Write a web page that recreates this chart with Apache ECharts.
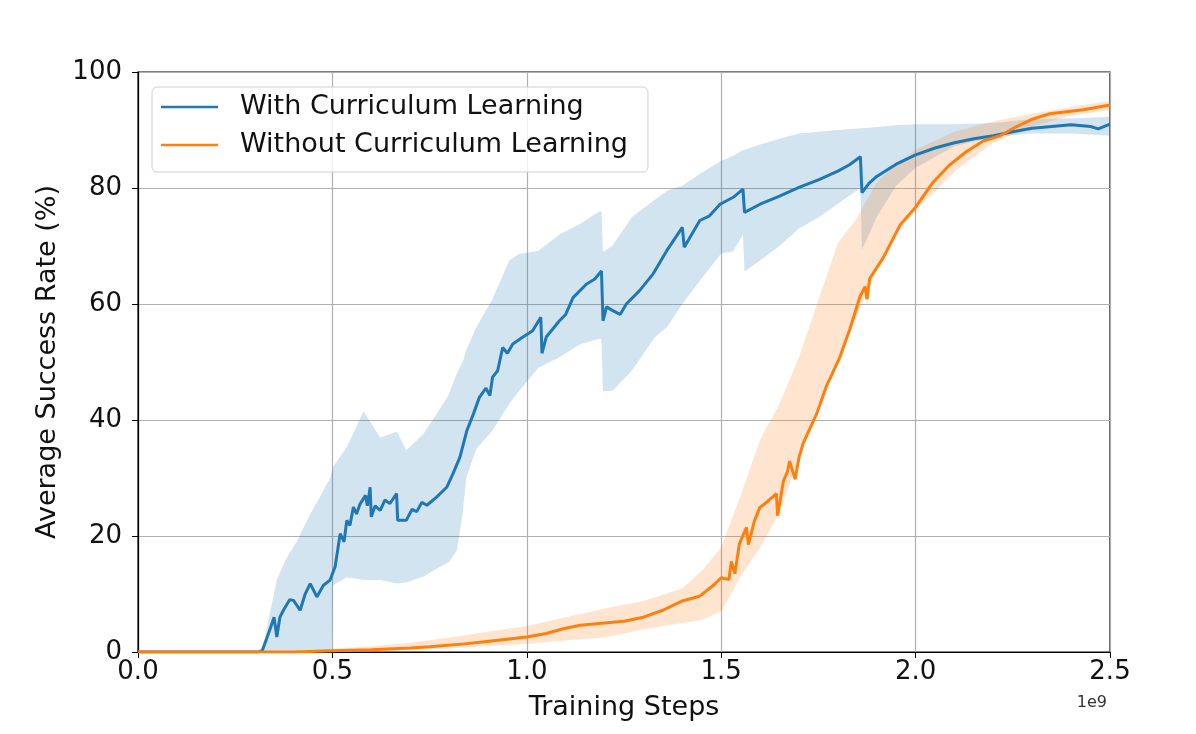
<!DOCTYPE html>
<html>
<head>
<meta charset="utf-8">
<script src="https://cdn.jsdelivr.net/npm/echarts@6/dist/echarts.min.js"></script>
<style>
  html, body { margin: 0; padding: 0; background: #fff; }
  #chart { width: 1196px; height: 734px; }
</style>
</head>
<body>
<div id="chart"></div>
<script>
// training steps are in units of 1e9
var xTicks = [0.0, 0.5, 1.0, 1.5, 2.0, 2.5];
var yTicks = [0, 20, 40, 60, 80, 100];

// With Curriculum Learning - mean line
var withX = [0, 0.31, 0.32, 0.34, 0.35, 0.357, 0.365, 0.374, 0.39, 0.40, 0.417, 0.43, 0.443, 0.46, 0.477, 0.494,
  0.507, 0.52, 0.53, 0.537, 0.545, 0.554, 0.562, 0.571, 0.585, 0.59, 0.597, 0.600, 0.61, 0.623, 0.635, 0.648,
  0.665, 0.668, 0.69, 0.705, 0.717, 0.73, 0.743,
  0.768, 0.794, 0.81, 0.828, 0.846, 0.863, 0.878, 0.895, 0.905, 0.912, 0.925, 0.938, 0.95, 0.964, 0.99, 1.015,
  1.036, 1.039, 1.05, 1.084, 1.1, 1.119, 1.153, 1.175, 1.192, 1.196, 1.205, 1.22, 1.24, 1.256, 1.29, 1.325,
  1.36, 1.40, 1.405, 1.445, 1.47, 1.497, 1.531, 1.556, 1.56, 1.6, 1.65, 1.7, 1.75, 1.8, 1.83, 1.858, 1.862,
  1.88, 1.9, 1.95, 2.0, 2.05, 2.1, 2.15, 2.2, 2.25, 2.3, 2.35, 2.4, 2.45, 2.47, 2.5];
var withY = [0, 0, 0.3, 4, 6, 2.6, 6, 7.2, 9, 8.9, 7.2, 10, 11.8, 9.5, 11.5, 12.4,
  14.7, 20.4, 19, 22.7, 21.8, 25, 23.8, 25.5, 27, 25.2, 28.4, 23.3, 25.2, 24.4, 26.2, 25.6,
  27.3, 22.7, 22.7, 24.6, 24.2, 25.8, 25.3,
  26.7, 28.4, 30.7, 33.6, 38.2, 41.1, 43.9, 45.5, 44.2, 47.4, 48.5, 52.5, 51.5, 53.1, 54.3, 55.4,
  57.7, 51.5, 54.3, 57.1, 58.2, 61.1, 63.4, 64.3, 65.7, 57.1, 59.5, 58.9, 58.2, 60, 62.3, 65.2,
  69.2, 73.2, 69.8, 74.4, 75.2, 77.2, 78.4, 79.8, 75.8, 77.2, 78.6, 80.1, 81.4, 82.9, 84, 85.4, 79.2,
  80.8, 82, 84.1, 85.7, 86.9, 87.8, 88.5, 89, 89.7, 90.3, 90.6, 90.9, 90.6, 90.2, 91];

// With Curriculum Learning - shaded band
var withBandX = [0.32, 0.34, 0.357, 0.38, 0.408, 0.443, 0.47, 0.494, 0.498, 0.502, 0.537, 0.58, 0.623, 0.666,
  0.69, 0.734, 0.777, 0.80, 0.82, 0.835, 0.844, 0.87, 0.91, 0.955, 0.98, 1.03, 1.084, 1.136, 1.187, 1.192,
  1.196, 1.22, 1.27, 1.33, 1.36, 1.40, 1.445, 1.50, 1.53, 1.556, 1.56, 1.6, 1.65, 1.7, 1.75, 1.8, 1.858,
  1.862, 1.9, 1.95, 2.0, 2.1, 2.2, 2.3, 2.4, 2.5];
var withLow = [0, 0, 0, 0, 0, 0, 0, 0, 0, 11.5, 12.9, 12.4, 12.4, 11.8,
  12, 13, 14.7, 15.5, 17.5, 23.8, 30, 35, 38, 42.8, 45, 49, 50.8, 53, 54, 54,
  45, 45, 48.5, 54.3, 56, 60, 64, 68.7, 69, 72, 65.6, 67.5, 70, 73, 74.9, 77.3, 80,
  69.3, 75, 80.4, 83.5, 87.2, 88.8, 89.4, 89.4, 89];
var withHigh = [0.3, 7, 12.4, 16, 19, 23.8, 27, 30, 31, 32, 35.3, 41.5, 37, 38,
  34.8, 37.6, 42, 44.5, 48, 50, 52, 56, 60.6, 67.5, 68.6, 69.2, 72, 73.8, 76, 76,
  69, 70, 75, 78, 79.5, 80.4, 82.4, 84.7, 85.5, 86.5, 86.6, 87.5, 88.5, 89.4, 89.7, 90, 90.3,
  90.3, 90.5, 90.8, 91, 91, 91.2, 91.9, 92, 92.3];

// Without Curriculum Learning - mean line
var withoutX = [0, 0.4, 0.5, 0.6, 0.7, 0.75, 0.84, 0.92, 1.0, 1.05, 1.094, 1.137, 1.2, 1.25, 1.3, 1.35, 1.40,
  1.444, 1.48, 1.5, 1.52, 1.526, 1.535, 1.547, 1.565, 1.57, 1.585, 1.599, 1.62, 1.642, 1.645, 1.66, 1.67,
  1.676, 1.69, 1.7, 1.711, 1.745, 1.771, 1.805, 1.831, 1.857, 1.87, 1.875, 1.882, 1.917, 1.96, 2.0, 2.045,
  2.088, 2.131, 2.174, 2.217, 2.26, 2.302, 2.345, 2.431, 2.5];
var withoutY = [0, 0, 0.2, 0.4, 0.7, 0.9, 1.4, 2, 2.6, 3.2, 4, 4.6, 5, 5.3, 6, 7.2, 8.8,
  9.6, 11.5, 12.8, 12.5, 15.6, 13.5, 18.7, 21.5, 18.5, 22.5, 24.9, 26, 27.3, 23.5, 29.5, 31,
  32.9, 29.8, 33.5, 36, 41, 45.9, 50.8, 55.7, 61.3, 63, 60.8, 64.4, 68, 73.6, 76.7, 81,
  84, 86.3, 88.1, 89, 90.6, 91.9, 92.8, 93.5, 94.3];

// Without Curriculum Learning - shaded band
var withoutBandX = [0.4, 0.5, 0.6, 0.7, 0.8, 0.9, 1.0, 1.1, 1.2, 1.3, 1.4, 1.45, 1.5, 1.55, 1.6, 1.65, 1.7,
  1.75, 1.8, 1.85, 1.9, 1.95, 2.0, 2.1, 2.2, 2.3, 2.4, 2.5];
var withoutLow = [0, 0, 0.1, 0.3, 0.6, 1, 1.4, 2, 2.5, 3.9, 5, 5.5, 7, 13, 18, 24, 33.5,
  42.8, 50, 58, 66, 72, 76, 82.9, 87.8, 90.6, 92.5, 93.4];
var withoutHigh = [0.1, 0.6, 1, 1.6, 2.5, 3.5, 4.5, 6, 7.5, 8.8, 11, 14, 18, 27, 36.6, 42.8, 50.8,
  60.7, 70.5, 74.9, 81, 84, 86.6, 89.7, 91.5, 92.8, 94, 95];

var BLUE = '#1f77b4';
var ORANGE = '#ff7f0e';
var FONT = 'DejaVu Sans';

function pairs(xs, ys) {
    return xs.map(function(x, i) { return [x, ys[i]]; });
}

// shaded min/max band drawn as one polygon through the axis scales
function band(name, xs, lo, hi, fill) {
    return {
        name: name,
        type: 'custom',
        silent: true,
        z: 1,
        clip: true,
        data: [[xs[0], lo[0]]],
        renderItem: function(params, api) {
            var pts = [];
            for (var i = 0; i < xs.length; i++) pts.push(api.coord([xs[i], hi[i]]));
            for (var j = xs.length - 1; j >= 0; j--) pts.push(api.coord([xs[j], lo[j]]));
            return { type: 'polygon', shape: { points: pts }, style: { fill: fill } };
        }
    };
}

var chart = echarts.init(document.getElementById('chart'));

var option = {
    backgroundColor: '#fff',
    animation: false,
    textStyle: { fontFamily: FONT },
    grid: {
        left: 138, right: 86, top: 72, bottom: 82,
        show: true, borderColor: '#000', borderWidth: 1.2   // full box like matplotlib
    },
    legend: {
        data: [
            { name: 'With Curriculum Learning', itemStyle: { color: BLUE } },
            { name: 'Without Curriculum Learning', itemStyle: { color: ORANGE } }
        ],
        orient: 'vertical',
        left: 152, top: 87,
        padding: [5, 20, 12, 9],
        icon: 'rect',
        itemWidth: 57, itemHeight: 2.5,
        itemGap: 8,
        backgroundColor: 'rgba(255,255,255,0.8)',
        borderColor: '#d0d0d0', borderWidth: 1, borderRadius: 5,
        textStyle: { fontSize: 27, color: '#111', fontFamily: FONT, padding: [0, 0, 0, 17], lineHeight: 30 }
    },
    xAxis: {
        type: 'value',
        min: xTicks[0], max: xTicks[xTicks.length - 1], interval: 0.5,
        name: 'Training Steps',
        nameLocation: 'middle', nameGap: 42,
        nameTextStyle: { fontSize: 27, color: '#111' },
        axisLine: { lineStyle: { color: '#000', width: 1.2 } },
        axisTick: { show: true, length: 6, lineStyle: { color: '#000' } },
        axisLabel: { fontSize: 26, color: '#111', margin: 7, formatter: function(v) { return v.toFixed(1); } },
        splitLine: { show: true, lineStyle: { color: '#b0b0b0', width: 1.2 } }
    },
    yAxis: {
        type: 'value',
        min: yTicks[0], max: yTicks[yTicks.length - 1], interval: 20,
        name: 'Average Success Rate (%)',
        nameLocation: 'middle', nameGap: 69, nameRotate: 90,
        nameTextStyle: { fontSize: 27, color: '#111' },
        axisLine: { show: true, lineStyle: { color: '#000', width: 1.2 } },
        axisTick: { show: true, length: 6, lineStyle: { color: '#000' } },
        axisLabel: { fontSize: 26, color: '#111', margin: 16 },
        splitLine: { show: true, lineStyle: { color: '#b0b0b0', width: 1.2 } }
    },
    graphic: [{
        type: 'text', right: 89, top: 695,
        style: { text: '1e9', fontSize: 16, fill: '#333', fontFamily: FONT }
    }],
    series: [
        band('withBand', withBandX, withLow, withHigh, 'rgba(31,119,180,0.2)'),
        band('withoutBand', withoutBandX, withoutLow, withoutHigh, 'rgba(255,127,14,0.2)'),
        { name: 'With Curriculum Learning', type: 'line', data: pairs(withX, withY),
          symbol: 'none', color: BLUE, lineStyle: { color: BLUE, width: 3 }, z: 3 },
        { name: 'Without Curriculum Learning', type: 'line', data: pairs(withoutX, withoutY),
          symbol: 'none', color: ORANGE, lineStyle: { color: ORANGE, width: 3 }, z: 3 }
    ]
};

chart.setOption(option);
</script>
</body>
</html>
